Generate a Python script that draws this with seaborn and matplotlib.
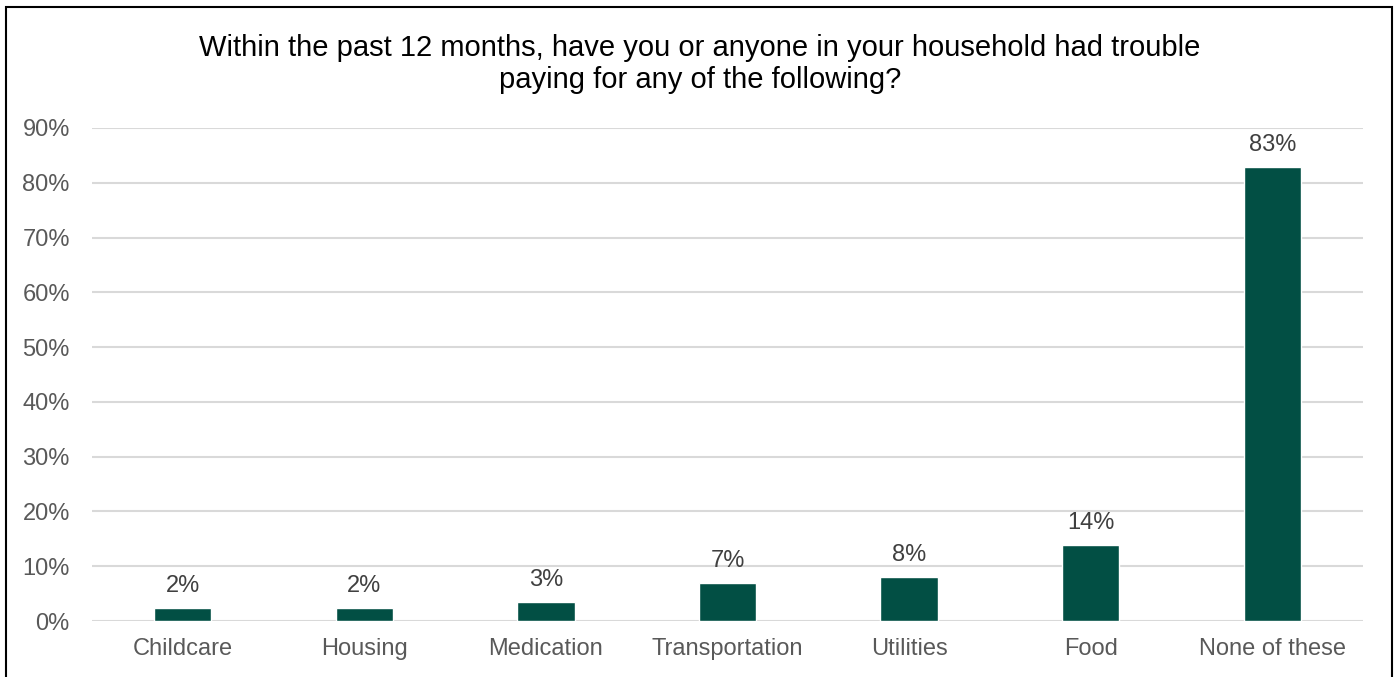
import matplotlib
matplotlib.use("Agg")
import matplotlib.pyplot as plt
import matplotlib.patches as mpatches
from matplotlib.ticker import FuncFormatter, MultipleLocator
import seaborn as sns
import pandas as pd

categories = ["Childcare", "Housing", "Medication", "Transportation", "Utilities", "Food", "None of these"]
values = [2.3, 2.3, 3.4, 6.9, 8.1, 13.8, 82.8]
labels = ["2%", "2%", "3%", "7%", "8%", "14%", "83%"]
title = "Within the past 12 months, have you or anyone in your household had trouble\npaying for any of the following?"

sns.set_theme(style="white")
plt.rcParams['font.family'] = ['Liberation Sans', 'DejaVu Sans']

df = pd.DataFrame({"cat": categories, "val": values})

fig = plt.figure(figsize=(14, 6.77), dpi=100)
ax = fig.add_axes([92/1400, 1-621/677, (1363-92)/1400, (621-128)/677])

sns.barplot(data=df, x="cat", y="val", color="#024F44", width=0.315, ax=ax, saturation=1)

ax.set_ylim(0, 90)
ax.yaxis.set_major_locator(MultipleLocator(10))
ax.yaxis.set_major_formatter(FuncFormatter(lambda v, p: f"{int(round(v))}%"))
ax.grid(axis="y", color="#D9D9D9", linewidth=1.5)
ax.set_axisbelow(True)
for s in ax.spines.values():
    s.set_visible(False)
ax.set_xlabel("")
ax.set_ylabel("")
ax.tick_params(axis="both", length=0, labelsize=17, labelcolor="#595959")
ax.tick_params(axis="x", pad=12)
ax.tick_params(axis="y", pad=16)

for i, (v, lab) in enumerate(zip(values, labels)):
    ax.annotate(lab, (i, v), xytext=(0, 8), textcoords="offset points",
                ha="center", va="bottom", fontsize=17, color="#404040")

fig.text(700/1400, 1-64/677, title, ha="center", va="center", fontsize=21, color="black", linespacing=1.2)

rect = mpatches.Rectangle((6/1400, -0.05), (1392-6)/1400, 1.05 - 7/677, transform=fig.transFigure,
                          fill=False, edgecolor="black", linewidth=1.5)
fig.patches.append(rect)

fig.savefig("out.png", dpi=100)
